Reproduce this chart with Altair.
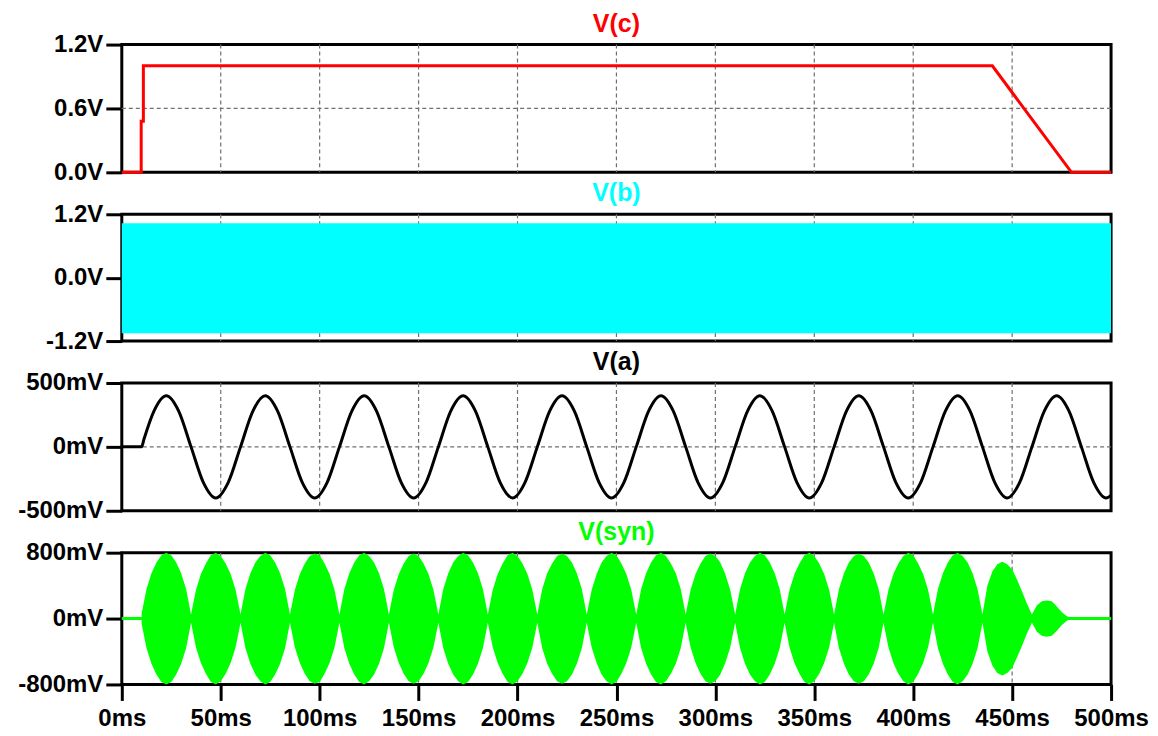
import altair as alt
import pandas as pd

# ---------------- data ----------------
# time axis in ms
X_TICKS = [0, 50, 100, 150, 200, 250, 300, 350, 400, 450, 500]
GRID_T = [50, 100, 150, 200, 250, 300, 350, 400, 450]

# V(c): step up at ~10 ms, flat 1.0 V, ramp down 440 -> 480 ms
T_C = [0, 9.8, 9.8, 10.9, 10.9, 440, 480, 500]
V_C = [0.0, 0.0, 0.48, 0.48, 1.0, 1.0, 0.0, 0.0]

# V(b): dense carrier, drawn as its filled band
T_B = [0, 500]
B_HI = [1.03, 1.03]
B_LO = [-1.05, -1.05]

# V(a): 20 Hz sine starting at 10 ms, read every 6.25 ms from 10 ms
A_START, A_STEP = 10.0, 6.25
V_A = [
    0.0, 0.28, 0.40, 0.28, 0.0, -0.28, -0.40, -0.28,
    0.0, 0.28, 0.40, 0.28, 0.0, -0.28, -0.40, -0.28,
    0.0, 0.28, 0.40, 0.28, 0.0, -0.28, -0.40, -0.28,
    0.0, 0.28, 0.40, 0.28, 0.0, -0.28, -0.40, -0.28,
    0.0, 0.28, 0.40, 0.28, 0.0, -0.28, -0.40, -0.28,
    0.0, 0.28, 0.40, 0.28, 0.0, -0.28, -0.40, -0.28,
    0.0, 0.28, 0.40, 0.28, 0.0, -0.28, -0.40, -0.28,
    0.0, 0.28, 0.40, 0.28, 0.0, -0.28, -0.40, -0.28,
    0.0, 0.28, 0.40, 0.28, 0.0, -0.28, -0.40, -0.28,
    0.0, 0.28, 0.40, 0.28, 0.0, -0.28, -0.40,
]
A_PRE = [(0.0, 0.0)]                   # flat before start
A_EXTRA = [(11.2, 0.06)]               # just after the start kink
A_END = [(500.0, -0.38)]               # value at right edge

# V(syn): envelope of the modulated burst, read every 2.5 ms from 10 ms
S_START, S_STEP = 10.0, 2.5
SYN_ENV = [
    0.06, 0.36, 0.55, 0.68, 0.77, 0.80, 0.77, 0.68, 0.55, 0.36,
    0.05, 0.35, 0.54, 0.67, 0.77, 0.80, 0.76, 0.67, 0.54, 0.35,
    0.05, 0.36, 0.55, 0.68, 0.76, 0.80, 0.77, 0.68, 0.55, 0.36,
    0.05, 0.35, 0.54, 0.67, 0.76, 0.79, 0.77, 0.67, 0.54, 0.35,
    0.05, 0.36, 0.55, 0.68, 0.77, 0.80, 0.76, 0.68, 0.55, 0.36,
    0.05, 0.35, 0.54, 0.67, 0.76, 0.79, 0.76, 0.67, 0.54, 0.35,
    0.05, 0.36, 0.55, 0.68, 0.76, 0.80, 0.77, 0.68, 0.55, 0.36,
    0.05, 0.35, 0.54, 0.67, 0.77, 0.80, 0.76, 0.67, 0.54, 0.35,
    0.05, 0.36, 0.55, 0.67, 0.76, 0.79, 0.76, 0.68, 0.55, 0.36,
    0.05, 0.35, 0.54, 0.68, 0.76, 0.80, 0.77, 0.67, 0.54, 0.35,
    0.05, 0.36, 0.55, 0.68, 0.77, 0.80, 0.76, 0.67, 0.55, 0.36,
    0.05, 0.35, 0.54, 0.67, 0.76, 0.79, 0.76, 0.68, 0.54, 0.35,
    0.05, 0.36, 0.55, 0.68, 0.76, 0.80, 0.77, 0.68, 0.55, 0.36,
    0.05, 0.35, 0.54, 0.67, 0.77, 0.80, 0.76, 0.67, 0.54, 0.35,
    0.05, 0.36, 0.55, 0.68, 0.76, 0.79, 0.76, 0.68, 0.55, 0.36,
    0.05, 0.35, 0.54, 0.67, 0.76, 0.80, 0.77, 0.67, 0.54, 0.35,
    0.05, 0.36, 0.55, 0.68, 0.77, 0.80, 0.76, 0.68, 0.55, 0.36,
    0.05, 0.40, 0.57, 0.66, 0.69, 0.66, 0.60, 0.47, 0.33, 0.18,
    0.05, 0.16, 0.21, 0.22, 0.21, 0.15, 0.08, 0.03, 0.0, 0.0,
    0.0,
]

V_TICKS_C = [0.0, 0.6, 1.2]
V_TICKS_B = [-1.2, 0.0, 1.2]
V_TICKS_A = [-0.5, 0.0, 0.5]
V_TICKS_S = [-0.8, 0.0, 0.8]

TITLES = ["V(c)", "V(b)", "V(a)", "V(syn)"]
COLORS = ["#FF0000", "#00FFFF", "#000000", "#00FF00"]

# ---------------- tables ----------------
df_c = pd.DataFrame({"t": T_C, "v": V_C, "i": range(len(T_C))})
df_b = pd.DataFrame({"t": T_B, "hi": B_HI, "lo": B_LO})
pts_a = (A_PRE + A_EXTRA
         + [(A_START + A_STEP * k, v) for k, v in enumerate(V_A)]
         + A_END)
df_a = pd.DataFrame(pts_a, columns=["t", "v"]).sort_values("t")
t_s = [S_START + S_STEP * k for k in range(len(SYN_ENV))]
df_s = pd.DataFrame({"t": t_s, "hi": SYN_ENV, "lo": [-e for e in SYN_ENV]})
df_zero = pd.DataFrame({"t": [0, 500], "v": [0.0, 0.0]})
df_grid = pd.DataFrame({"t": GRID_T})

FONT = "Liberation Sans"
W = 991
HEIGHTS = [128, 127, 128, 132]

X_SCALE = alt.Scale(domain=[0, 500], nice=False, zero=False)

volt_expr = "(datum.value < 0 ? '-' : '') + format(abs(datum.value), '.1f') + 'V'"
mv_expr = "(datum.value < 0 ? '-' : '') + format(abs(datum.value) * 1000, 'd') + 'mV'"


def yaxis(values, expr):
    return alt.Axis(values=values, labelExpr=expr, tickSize=16, tickWidth=3,
                    tickColor="black", domain=False, grid=False,
                    labelFontSize=24, labelFont=FONT, labelFontWeight="bold",
                    labelColor="black", labelPadding=3, title=None,
                    minExtent=112, maxExtent=112)


def xenc(show):
    if show:
        ax = alt.Axis(values=X_TICKS, labelExpr="datum.value + 'ms'", tickSize=16,
                      tickWidth=3, tickColor="black", domain=False, grid=False,
                      labelFontSize=24, labelFont=FONT, labelFontWeight="bold",
                      labelColor="black", labelPadding=6, title=None,
                      labelFlush=False, labelOverlap=False)
    else:
        ax = None
    return alt.X("t:Q", scale=X_SCALE, axis=ax)


def panel(idx, data_layers, ydom, yvals, expr, mid, show_x=False):
    yscale = alt.Scale(domain=ydom, nice=False, zero=False)
    grid_v = alt.Chart(df_grid).mark_rule(color="#707070", strokeDash=[4, 3],
                                          strokeWidth=1.2).encode(
        x=xenc(show_x),
        y=alt.value(0),
        y2=alt.value(HEIGHTS[idx]),
    )
    grid_h = alt.Chart(pd.DataFrame({"v": [mid]})).mark_rule(
        color="#707070", strokeDash=[4, 3], strokeWidth=1.2).encode(
        y=alt.Y("v:Q", scale=yscale, axis=yaxis(yvals, expr)),
    )
    layers = [grid_v, grid_h] + [f(yscale, show_x) for f in data_layers]
    return alt.layer(*layers).properties(
        width=W, height=HEIGHTS[idx],
        title=alt.TitleParams(text=TITLES[idx], color=COLORS[idx], fontSize=25,
                              font=FONT, fontWeight="bold", anchor="middle",
                              offset=-4),
    )


def line_c(ys, sx):
    return alt.Chart(df_c).mark_line(color=COLORS[0], strokeWidth=3).encode(
        x=xenc(sx), y=alt.Y("v:Q", scale=ys), order="i:Q")


def band_b(ys, sx):
    return alt.Chart(df_b).mark_area(color=COLORS[1], opacity=1).encode(
        x=xenc(sx), y=alt.Y("hi:Q", scale=ys), y2="lo:Q")


def line_a(ys, sx):
    return alt.Chart(df_a).mark_line(color=COLORS[2], strokeWidth=3,
                                     interpolate="monotone").encode(
        x=xenc(sx), y=alt.Y("v:Q", scale=ys))


def zero_s(ys, sx):
    return alt.Chart(df_zero).mark_line(color=COLORS[3], strokeWidth=3).encode(
        x=xenc(sx), y=alt.Y("v:Q", scale=ys))


def band_s(ys, sx):
    return alt.Chart(df_s).mark_area(color=COLORS[3], opacity=1).encode(
        x=xenc(sx), y=alt.Y("hi:Q", scale=ys), y2="lo:Q")


p1 = panel(0, [line_c], [0, 1.2], V_TICKS_C, volt_expr, 0.6)
p2 = panel(1, [band_b], [-1.2, 1.2], V_TICKS_B, volt_expr, 0.0)
p3 = panel(2, [line_a], [-0.5, 0.5], V_TICKS_A, mv_expr, 0.0)
p4 = panel(3, [zero_s, band_s], [-0.8, 0.8], V_TICKS_S, mv_expr, 0.0, show_x=True)

chart = alt.vconcat(p1, p2, p3, p4, spacing=42, bounds="flush").properties(
    padding={"top": 1, "left": 0, "right": 0, "bottom": 0},
    background="white",
).configure_view(stroke="black", strokeWidth=3)

chart.save("out.html", embed_options={"renderer": "svg", "actions": False})
